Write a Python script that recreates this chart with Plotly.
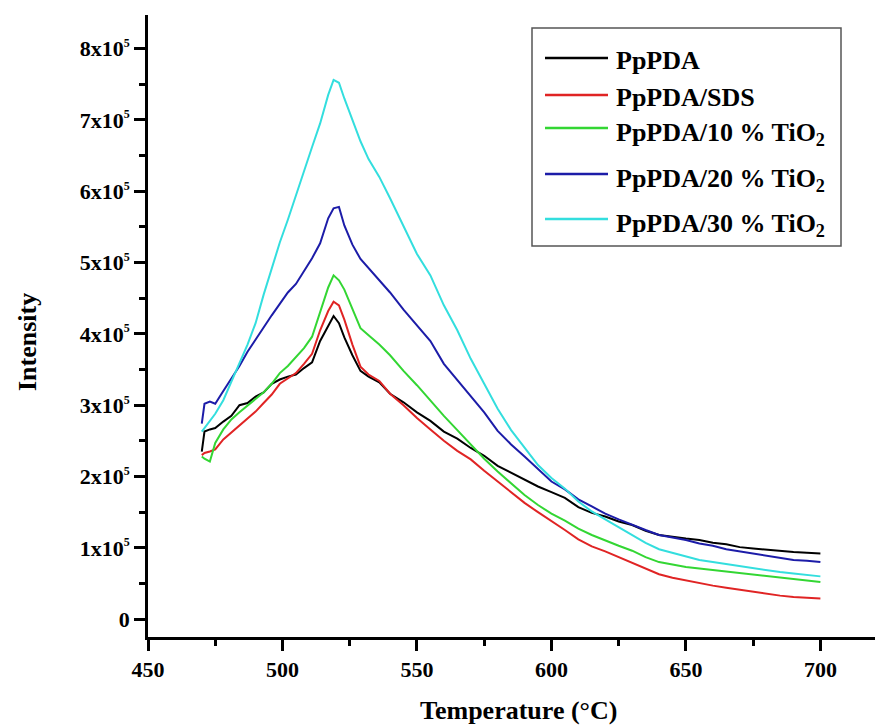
import plotly.graph_objects as go

# ---------------- data ----------------
temperature = [470, 471, 473, 475, 478, 481, 484, 487, 490, 493, 496, 499, 502, 505, 508,
               511, 514, 517, 519, 521, 523, 526, 529, 532, 536, 540, 545, 550, 555, 560,
               565, 570, 575, 580, 585, 590, 595, 600, 605, 610, 615, 620, 625, 630, 635,
               640, 645, 650, 655, 660, 665, 670, 675, 680, 685, 690, 695, 700]

ppda = [2.35, 2.63, 2.66, 2.68, 2.77, 2.85, 3.00, 3.03, 3.12, 3.18, 3.30, 3.36, 3.40, 3.43, 3.52,
        3.60, 3.90, 4.12, 4.25, 4.15, 3.95, 3.70, 3.48, 3.40, 3.32, 3.16, 3.04, 2.90, 2.78, 2.63,
        2.53, 2.40, 2.29, 2.15, 2.05, 1.95, 1.86, 1.78, 1.70, 1.57, 1.49, 1.44, 1.37, 1.32, 1.24,
        1.18, 1.15, 1.13, 1.11, 1.07, 1.05, 1.01, 0.99, 0.97, 0.95, 0.94, 0.93, 0.92]

ppda_sds = [2.30, 2.33, 2.35, 2.38, 2.52, 2.62, 2.72, 2.82, 2.91, 3.03, 3.15, 3.30, 3.38, 3.45, 3.58,
            3.72, 4.05, 4.32, 4.45, 4.40, 4.20, 3.85, 3.54, 3.43, 3.34, 3.16, 3.00, 2.82, 2.66, 2.50,
            2.36, 2.24, 2.08, 1.93, 1.78, 1.63, 1.50, 1.38, 1.25, 1.12, 1.02, 0.95, 0.87, 0.80, 0.71,
            0.63, 0.58, 0.54, 0.50, 0.47, 0.44, 0.41, 0.38, 0.35, 0.33, 0.31, 0.30, 0.29]

ppda_tio2_10 = [2.28, 2.25, 2.21, 2.47, 2.66, 2.80, 2.90, 2.99, 3.08, 3.18, 3.30, 3.45, 3.55, 3.67, 3.80,
                3.96, 4.32, 4.65, 4.82, 4.75, 4.62, 4.35, 4.08, 3.98, 3.85, 3.70, 3.48, 3.28, 3.06, 2.85,
                2.65, 2.45, 2.25, 2.07, 1.90, 1.74, 1.60, 1.48, 1.38, 1.27, 1.18, 1.10, 1.03, 0.96, 0.87,
                0.80, 0.76, 0.73, 0.71, 0.69, 0.66, 0.64, 0.62, 0.60, 0.58, 0.56, 0.55, 0.52]

ppda_tio2_20 = [2.74, 3.02, 3.05, 3.02, 3.20, 3.38, 3.55, 3.75, 3.92, 4.10, 4.26, 4.42, 4.58, 4.70, 4.88,
                5.06, 5.27, 5.62, 5.76, 5.78, 5.52, 5.25, 5.05, 4.92, 4.74, 4.58, 4.34, 4.12, 3.90, 3.58,
                3.35, 3.12, 2.90, 2.64, 2.45, 2.28, 2.10, 1.93, 1.82, 1.68, 1.58, 1.48, 1.40, 1.32, 1.25,
                1.18, 1.15, 1.11, 1.06, 1.03, 0.98, 0.95, 0.91, 0.88, 0.86, 0.83, 0.82, 0.80]

ppda_tio2_30 = [2.63, 2.68, 2.78, 2.88, 3.07, 3.32, 3.59, 3.85, 4.15, 4.55, 4.92, 5.28, 5.60, 5.95, 6.30,
                6.62, 6.95, 7.35, 7.56, 7.52, 7.30, 7.00, 6.70, 6.45, 6.20, 5.90, 5.50, 5.12, 4.82, 4.40,
                4.05, 3.65, 3.30, 2.95, 2.65, 2.40, 2.16, 1.98, 1.83, 1.65, 1.51, 1.40, 1.29, 1.18, 1.07,
                0.98, 0.93, 0.88, 0.83, 0.80, 0.77, 0.74, 0.71, 0.69, 0.66, 0.64, 0.62, 0.60]

series_names = ["PpPDA", "PpPDA/SDS", "PpPDA/10 % TiO<sub>2</sub>",
                "PpPDA/20 % TiO<sub>2</sub>", "PpPDA/30 % TiO<sub>2</sub>"]
series_values = [ppda, ppda_sds, ppda_tio2_10, ppda_tio2_20, ppda_tio2_30]
scale = 1e5

x_tick_vals = [450, 500, 550, 600, 650, 700]
y_tick_vals = [0, 1e5, 2e5, 3e5, 4e5, 5e5, 6e5, 7e5, 8e5]
y_tick_text = ["0"] + [f"{i}x10<sup><span style='font-size:12px'>5</span></sup>" for i in range(1, 9)]

# ---------------- styling ----------------
colors = ["#000000", "#e02424", "#33d633", "#1c1ca8", "#33dede"]
FONT = "Liberation Serif"
W, H = 875, 725
L, R, T, B = 148, 0, 15, 88  # plot area: x 148..875, y 15..637

fig = go.Figure()
for name, vals, col in zip(series_names, series_values, colors):
    fig.add_trace(go.Scatter(
        x=temperature, y=[v * scale for v in vals], mode="lines", name=name,
        line=dict(color=col, width=2), showlegend=False))

axis_common = dict(showgrid=False, zeroline=False, showline=True, linecolor="black",
                   linewidth=2.5, ticks="outside", ticklen=11, tickwidth=2.5, tickcolor="black",
                   tickfont=dict(family=FONT, size=22, color="black", weight="bold"))

fig.update_xaxes(range=[450, 720.3], tickvals=x_tick_vals,
                 minor=dict(dtick=25, tick0=450, ticks="outside", ticklen=6, tickwidth=2.5,
                            tickcolor="black"),
                 **axis_common)
fig.update_yaxes(range=[-25000, 847000], tickvals=y_tick_vals, ticktext=y_tick_text,
                 minor=dict(dtick=50000, tick0=0, ticks="outside", ticklen=6, tickwidth=2.5,
                            tickcolor="black"),
                 **axis_common)

pw, ph = W - L - R, H - T - B


def px_x(px):
    return (px - L) / pw


def px_y(py):
    return (H - B - py) / ph


shapes = []
annotations = []

# legend box
shapes.append(dict(type="rect", xref="paper", yref="paper",
                   x0=px_x(532), x1=px_x(841), y0=px_y(246), y1=px_y(28),
                   line=dict(color="#555555", width=1.5), fillcolor="white", layer="above"))
legend_rows = [58, 95, 128, 174, 219]
for name, col, ry in zip(series_names, colors, legend_rows):
    shapes.append(dict(type="line", xref="paper", yref="paper",
                       x0=px_x(545), x1=px_x(608), y0=px_y(ry), y1=px_y(ry),
                       line=dict(color=col, width=2.5), layer="above"))
    has_sub = "<sub>" in name
    annotations.append(dict(xref="paper", yref="paper", x=px_x(614), y=px_y(ry + (6 if has_sub else 2)),
                            xanchor="left", yanchor="middle", showarrow=False, text=name,
                            font=dict(family=FONT, size=26, color="black", weight="bold")))

# axis titles
annotations.append(dict(xref="paper", yref="paper", x=px_x(518), y=px_y(710),
                        xanchor="center", yanchor="middle", showarrow=False,
                        text="Temperature (°C)",
                        font=dict(family=FONT, size=26, color="black", weight="bold")))
annotations.append(dict(xref="paper", yref="paper", x=px_x(27), y=px_y(342),
                        xanchor="center", yanchor="middle", showarrow=False, textangle=-90,
                        text="Intensity",
                        font=dict(family=FONT, size=26, color="black", weight="bold")))

fig.update_layout(width=W, height=H, margin=dict(l=L, r=R, t=T, b=B, autoexpand=False),
                  paper_bgcolor="white", plot_bgcolor="white",
                  shapes=shapes, annotations=annotations, showlegend=False)

fig.write_html("out.html")
